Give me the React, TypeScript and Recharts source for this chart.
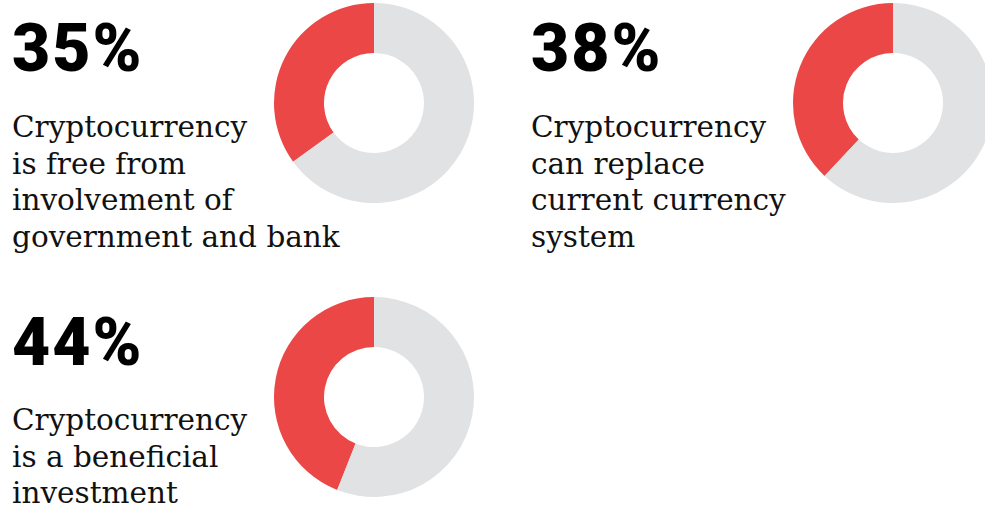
import React from "react";
import { PieChart, Pie, Cell } from "recharts";

const percentLabels = ["35%", "38%", "44%"];
const agreeValues = [35, 38, 44];
const descriptions = [
  ["Cryptocurrency", "is free from", "involvement of", "government and bank"],
  ["Cryptocurrency", "can replace", "current currency", "system"],
  ["Cryptocurrency", "is a beneficial", "investment"],
];
const colors = ["#EC4747", "#E1E2E4"];

// panel layout (positions only)
const panels = [
  { tx: 12, numBase: 71, textBase: 137, cx: 373.5, cy: 103.3 },
  { tx: 531, numBase: 71, textBase: 137, cx: 892.7, cy: 103.3 },
  { tx: 12, numBase: 365, textBase: 430, cx: 373.5, cy: 397.3 },
];
const R = 100;
const r = 50;
const LINE = 36.5;

export default function App() {
  return (
    <div style={{ position: "absolute", left: 0, top: 0, width: 985, height: 506, background: "#fff", overflow: "hidden" }}>
      {panels.map((p, i) => {
        const data = [
          { name: "yes", value: agreeValues[i] },
          { name: "rest", value: 100 - agreeValues[i] },
        ];
        return (
          <div key={i} style={{ position: "absolute", left: p.cx - R - 2, top: p.cy - R - 2 }}>
            <PieChart width={2 * R + 4} height={2 * R + 4} margin={{ top: 0, right: 0, bottom: 0, left: 0 }}>
              <Pie
                data={data}
                dataKey="value"
                cx="50%"
                cy="50%"
                innerRadius={r}
                outerRadius={R}
                startAngle={90}
                endAngle={450}
                stroke="none"
                isAnimationActive={false}
              >
                {data.map((d, j) => (
                  <Cell key={j} fill={colors[j]} />
                ))}
              </Pie>
            </PieChart>
          </div>
        );
      })}
      <svg width={985} height={506} style={{ position: "absolute", left: 0, top: 0, pointerEvents: "none" }}>
        {panels.map((p, i) => (
          <g key={i}>
            <text x={p.tx} y={p.numBase} fontFamily="Roboto" fontWeight={900} fontSize={66} letterSpacing={2} fill="#000">
              {percentLabels[i]}
            </text>
            {descriptions[i].map((line, k) => (
              <text key={k} x={p.tx} y={p.textBase + k * LINE} fontFamily="DejaVu Serif" fontSize={29.5} fill="#111">
                {line}
              </text>
            ))}
          </g>
        ))}
      </svg>
    </div>
  );
}
